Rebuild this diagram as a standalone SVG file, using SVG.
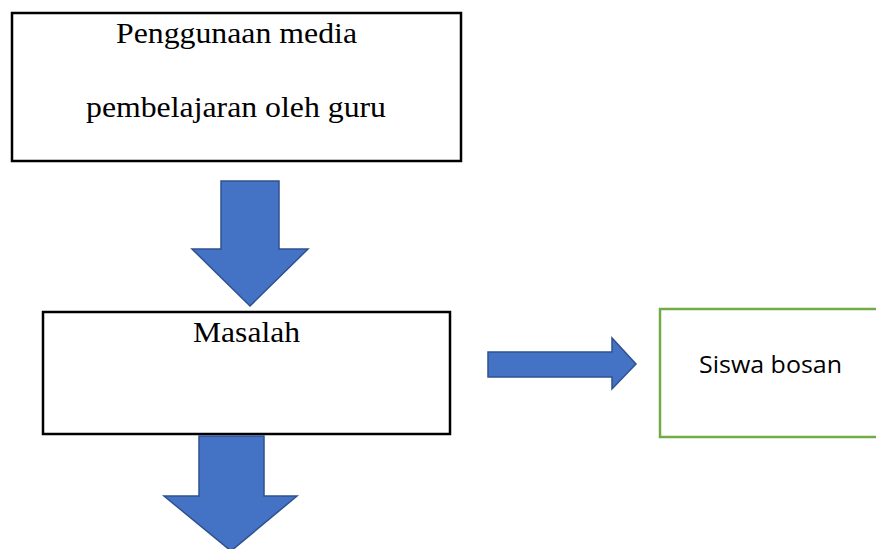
<svg xmlns="http://www.w3.org/2000/svg" width="876" height="549" viewBox="0 0 876 549">
<style>
.box{fill:#ffffff;stroke:#000000;stroke-width:2.5}
.gbox{fill:#ffffff;stroke:#70AD47;stroke-width:2.5}
.arr{fill:#4472C4;stroke:#2F528F;stroke-width:1.5;stroke-linejoin:miter}
.serif{font-family:"Liberation Serif","Times New Roman",serif;font-size:29px;fill:#000000}
.sans{font-family:"Open Sans","Liberation Sans",Arial,sans-serif;font-size:23.5px;fill:#000000}
</style>
<rect width="876" height="549" fill="#ffffff"/>
<g id="node-penggunaan">
<rect class="box" x="12" y="13" width="449" height="148"/>
<text class="serif" x="116" y="43" textLength="241" lengthAdjust="spacingAndGlyphs">Penggunaan media</text>
<text class="serif" x="86" y="117" textLength="300" lengthAdjust="spacingAndGlyphs">pembelajaran oleh guru</text>
</g>
<g id="node-masalah">
<rect class="box" x="43" y="312" width="407" height="122"/>
<text class="serif" x="193" y="342" textLength="107" lengthAdjust="spacingAndGlyphs">Masalah</text>
</g>
<g id="node-siswa">
<rect class="gbox" x="660" y="309" width="230" height="128"/>
<text class="sans" x="699" y="373" textLength="143" lengthAdjust="spacingAndGlyphs">Siswa bosan</text>
</g>
<g id="connectors">
<polygon class="arr" points="221,181 279,181 279,249 308,249 250,306 192,249 221,249"/>
<polygon class="arr" points="488,352 612,352 612,338 636,364 612,389 612,377 488,377"/>
<polygon class="arr" points="199,436 264,436 264,496 297,496 231,551 164,496 199,496"/>
</g>
</svg>
